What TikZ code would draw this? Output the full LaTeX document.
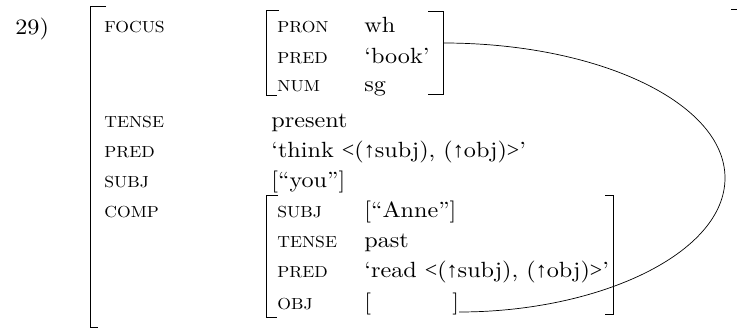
\documentclass[tikz,border=0pt]{standalone}
\usepackage{fontspec}
\setmainfont{lmroman10-regular.otf}[FakeStretch=1.1]
\newfontfamily\symfont{Liberation Serif}
\newcommand{\upar}{{\symfont ↑}}
\newcommand{\lt}{{\symfont <}}
\newcommand{\gt}{{\symfont >}}
\begin{document}
\begin{tikzpicture}[x=1pt,y=-1pt,line width=0.7pt,
  lab/.style={anchor=base west,inner sep=0pt,font=\fontsize{16}{19}\selectfont},
  val/.style={anchor=base west,inner sep=0pt,font=\fontsize{22}{25}\selectfont},
  brk/.style={line width=0.7pt}]
\useasboundingbox (0,0) rectangle (737,328);

% example number
\node[val] (num) at (15,35) {29)};

% outer f-structure bracket
\draw[brk] (106,6) -- (90,6) -- (90,327) -- (98,327);
\draw[brk] (731,9) -- (738,9);

% outer attributes
\node[lab] (focus) at (104,33) {FOCUS};
\node[lab] (tense) at (104,128) {TENSE};
\node[lab] (pred) at (104,158) {PRED};
\node[lab] (subj) at (104,188) {SUBJ};
\node[lab] (comp) at (104,218) {COMP};

% FOCUS value
\draw[brk] (279,10) -- (266,10) -- (266,95) -- (277,95);
\draw[brk] (428,11) -- (443,11) -- (443,94) -- (428,94);
\coordinate (focR) at (443,43);
\node[lab] (pron) at (277,33) {PRON};
\node[val] (wh) at (364,33) {wh};
\node[lab] (fpred) at (277,64) {PRED};
\node[val] (book) at (364,64) {‘book’};
\node[lab] (fnum) at (277,92) {NUM};
\node[val] (sg) at (364,92) {sg};

% outer values
\node[val] (present) at (271,128) {present};
\node[val] (think) at (271,158) {‘think \lt(\upar subj), (\upar obj)\gt’};
\node[val] (you) at (271,188) {[“you”]};

% COMP value
\draw[brk] (278,195) -- (266,195) -- (266,317) -- (277,317);
\draw[brk] (605,195) -- (613,195) -- (613,314) -- (605,314);
\node[lab] (csubj) at (277,218) {SUBJ};
\node[val] (anne) at (364,218) {[“Anne”]};
\node[lab] (ctense) at (277,248) {TENSE};
\node[val] (past) at (364,248) {past};
\node[lab] (cpred) at (277,278) {PRED};
\node[val] (read) at (364,278) {‘read \lt(\upar subj), (\upar obj)\gt’};
\node[lab] (cobj) at (277,310) {OBJ};
\node[val] (objL) at (364,310) {[};
\node[val] (objR) at (452,310) {]};

% structure-sharing line
\coordinate (rt) at (725,178);
\coordinate (objEnd) at (459,312);
\draw (focR) .. controls (599,43) and (725,103) .. (rt)
      .. controls (725,253) and (600,312) .. (objEnd);
\end{tikzpicture}
\end{document}
